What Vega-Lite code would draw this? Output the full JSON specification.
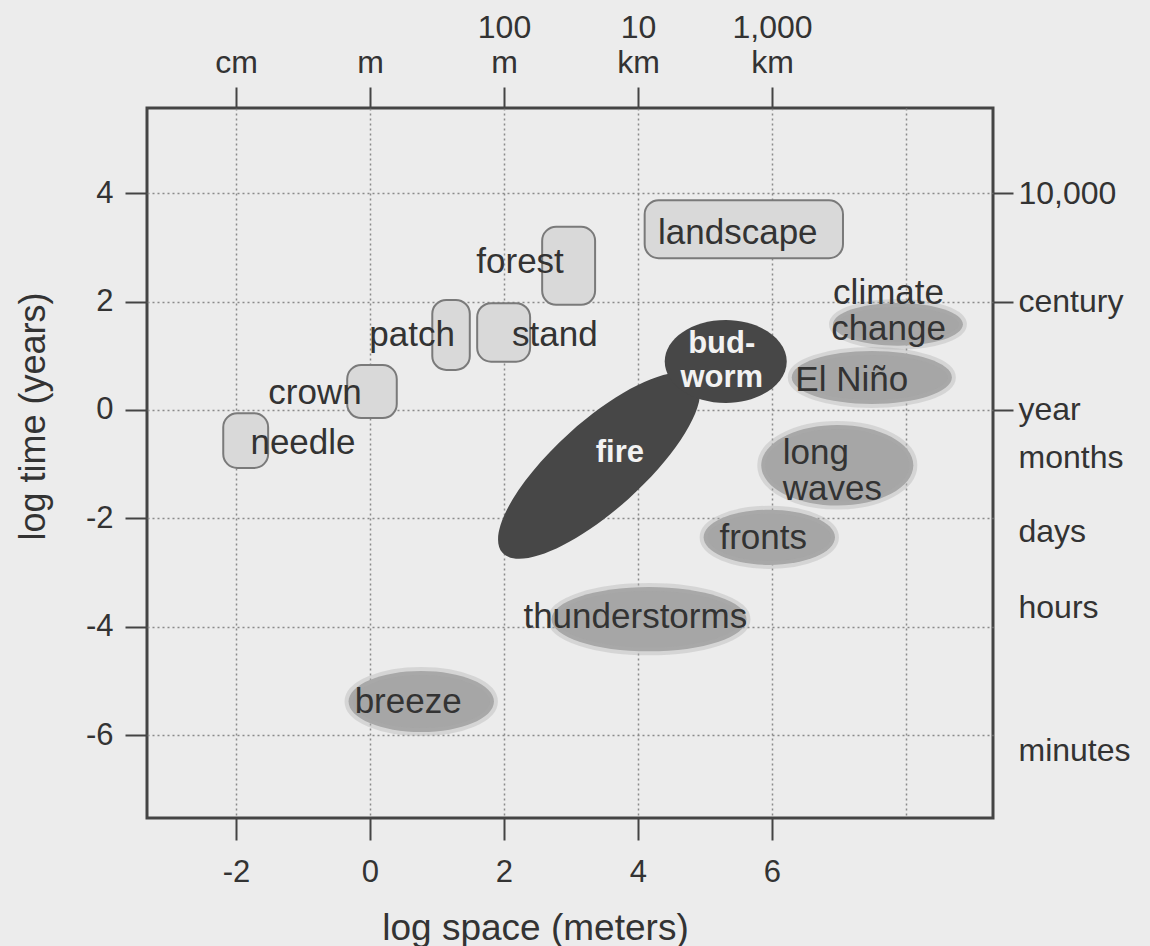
{
  "$schema": "https://vega.github.io/schema/vega-lite/v6.json",
  "autosize": {"type": "none"},
  "padding": {"left": 147, "top": 108, "right": 157, "bottom": 128},
  "width": 846,
  "height": 710,
  "background": "#ececec",
  "config": {
    "view": {"stroke": "#444444", "strokeWidth": 3},
    "font": "Liberation Sans",
    "axis": {"domain": false, "labelColor": "#333333", "titleColor": "#333333", "labelFont": "Liberation Sans", "titleFont": "Liberation Sans", "titleFontWeight": "normal", "tickWidth": 2, "gridColor": "#8a8a8a", "gridDash": [2, 3], "gridWidth": 1.5}
  },
  "datasets": {
    "habitat": [
      {"name": "landscape", "x1": 4.10, "x2": 7.06, "y1": 2.80, "y2": 3.87},
      {"name": "forest", "x1": 2.57, "x2": 3.36, "y1": 1.94, "y2": 3.38},
      {"name": "patch", "x1": 0.93, "x2": 1.49, "y1": 0.74, "y2": 2.03},
      {"name": "stand", "x1": 1.60, "x2": 2.39, "y1": 0.89, "y2": 1.97},
      {"name": "crown", "x1": -0.34, "x2": 0.40, "y1": -0.15, "y2": 0.83},
      {"name": "needle", "x1": -2.19, "x2": -1.52, "y1": -1.07, "y2": -0.06}
    ],
    "atmosphereFlat": [
      {"name": "climate change", "x": 7.88, "y": 1.58, "span": 1.94},
      {"name": "El Niño", "x": 7.49, "y": 0.60, "span": 2.39},
      {"name": "thunderstorms", "x": 4.165, "y": -3.86, "span": 2.91}
    ],
    "atmosphereMid": [
      {"name": "fronts", "x": 5.96, "y": -2.35, "span": 1.96},
      {"name": "breeze", "x": 0.765, "y": -5.38, "span": 2.17}
    ],
    "atmosphereRound": [
      {"name": "long waves", "x": 6.975, "y": -1.02, "span": 2.27}
    ],
    "budworm": [
      {"name": "budworm", "x": 5.31, "y": 0.895}
    ],
    "fire": [
      {"name": "fire", "x": 3.42, "y": -1.03}
    ],
    "labels": [
      {"text": "landscape", "x": 5.49, "y": 3.27},
      {"text": "forest", "x": 2.24, "y": 2.73},
      {"text": "patch", "x": 0.63, "y": 1.38},
      {"text": "stand", "x": 2.76, "y": 1.38},
      {"text": "crown", "x": -0.82, "y": 0.31},
      {"text": "needle", "x": -1.0, "y": -0.61},
      {"text": "climate\nchange", "x": 7.74, "y": 2.15},
      {"text": "El Niño", "x": 7.19, "y": 0.55},
      {"text": "fronts", "x": 5.87, "y": -2.36},
      {"text": "thunderstorms", "x": 3.96, "y": -3.82},
      {"text": "breeze", "x": 0.57, "y": -5.39}
    ],
    "leftlabels": [
      {"text": "long\nwaves", "x": 6.16, "y": -0.79}
    ],
    "whitelabels": [
      {"text": "bud-\nworm", "x": 5.25, "y": 1.21},
      {"text": "fire", "x": 3.73, "y": -0.79}
    ]
  },
  "resolve": {"axis": {"x": "independent", "y": "independent"}},
  "layer": [
    {
      "data": {"name": "habitat"},
      "mark": {"type": "rect", "fill": "#d9d9d9", "stroke": "#7a7a7a", "strokeWidth": 2, "cornerRadius": 14},
      "encoding": {
        "x": {"field": "x1", "type": "quantitative", "scale": {"domain": [-3.328, 9.299], "nice": false, "zero": false},
          "axis": {"orient": "bottom", "title": "log space (meters)", "values": [-2, 0, 2, 4, 6, 8], "grid": true,
            "labelExpr": "datum.value == 8 ? '' : '' + datum.value",
            "tickColor": {"condition": {"test": "datum.value < 7", "value": "#444444"}, "value": "transparent"},
            "tickSize": 22, "labelFontSize": 31, "labelPadding": 17, "labelBaseline": "top",
            "titleFontSize": 37, "titleX": 388, "titleY": 121, "titleBaseline": "alphabetic", "titleAnchor": "middle"}},
        "x2": {"field": "x2"},
        "y": {"field": "y1", "type": "quantitative", "scale": {"domain": [-7.528, 5.572], "nice": false, "zero": false},
          "axis": {"orient": "left", "title": "log time (years)", "values": [4, 2, 0, -2, -4, -6], "grid": true,
            "labelExpr": "'' + datum.value", "tickColor": "#444444",
            "tickSize": 22, "labelFontSize": 31, "labelPadding": 12,
            "titleFontSize": 36, "titleX": -103, "titleY": 308, "titleBaseline": "alphabetic", "titleAngle": -90, "titleAnchor": "middle"}},
        "y2": {"field": "y2"}
      }
    },
    {
      "data": {"name": "atmosphereFlat"},
      "mark": {"type": "point", "filled": true, "shape": "M -1 0 A 1 0.33 0 1 1 1 0 A 1 0.33 0 1 1 -1 0 Z", "color": "#a6a6a6", "opacity": 1, "stroke": "#ababab", "strokeWidth": 8, "strokeOpacity": 0.35},
      "encoding": {
        "x": {"field": "x", "type": "quantitative", "scale": {"domain": [-3.328, 9.299], "nice": false, "zero": false},
          "axis": {"orient": "top", "title": null, "values": [-2, 0, 2, 4, 6], "grid": false,
            "labelExpr": "datum.value == -2 ? ['', 'cm'] : datum.value == 0 ? ['', 'm'] : datum.value == 2 ? ['100', 'm'] : datum.value == 4 ? ['10', 'km'] : ['1,000', 'km']",
            "tickColor": "#444444", "tickSize": 21, "labelFontSize": 32, "labelPadding": 43, "labelBaseline": "bottom", "labelLineHeight": 35}},
        "y": {"field": "y", "type": "quantitative", "scale": {"domain": [-7.528, 5.572], "nice": false, "zero": false},
          "axis": {"orient": "right", "title": null, "values": [4, 2, 0, -0.87, -2.25, -3.65, -6.28], "grid": false,
            "labelExpr": "datum.value == 4 ? '10,000' : datum.value == 2 ? 'century' : datum.value == 0 ? 'year' : datum.value < -6 ? 'minutes' : datum.value < -3 ? 'hours' : datum.value < -2 ? 'days' : 'months'",
            "tickColor": {"condition": {"test": "datum.value >= 0", "value": "#444444"}, "value": "transparent"},
            "tickSize": 20, "labelFontSize": 32, "labelPadding": 5, "labelAlign": "left", "labelBaseline": "middle"}},
        "size": {"field": "span", "type": "quantitative", "scale": {"type": "pow", "exponent": 2, "domain": [0, 1], "range": [0, 4489]}, "legend": null}
      }
    },
    {
      "data": {"name": "atmosphereMid"},
      "mark": {"type": "point", "filled": true, "shape": "M -1 0 A 1 0.42 0 1 1 1 0 A 1 0.42 0 1 1 -1 0 Z", "color": "#a6a6a6", "opacity": 1, "stroke": "#ababab", "strokeWidth": 8, "strokeOpacity": 0.35},
      "encoding": {
        "x": {"field": "x", "type": "quantitative", "scale": {"domain": [-3.328, 9.299], "nice": false, "zero": false}, "axis": null},
        "y": {"field": "y", "type": "quantitative", "scale": {"domain": [-7.528, 5.572], "nice": false, "zero": false}, "axis": null},
        "size": {"field": "span", "type": "quantitative", "scale": {"type": "pow", "exponent": 2, "domain": [0, 1], "range": [0, 4489]}, "legend": null}
      }
    },
    {
      "data": {"name": "atmosphereRound"},
      "mark": {"type": "point", "filled": true, "shape": "M -1 0 A 1 0.53 0 1 1 1 0 A 1 0.53 0 1 1 -1 0 Z", "color": "#a6a6a6", "opacity": 1, "stroke": "#ababab", "strokeWidth": 8, "strokeOpacity": 0.35},
      "encoding": {
        "x": {"field": "x", "type": "quantitative", "scale": {"domain": [-3.328, 9.299], "nice": false, "zero": false}, "axis": null},
        "y": {"field": "y", "type": "quantitative", "scale": {"domain": [-7.528, 5.572], "nice": false, "zero": false}, "axis": null},
        "size": {"field": "span", "type": "quantitative", "scale": {"type": "pow", "exponent": 2, "domain": [0, 1], "range": [0, 4489]}, "legend": null}
      }
    },
    {
      "data": {"name": "fire"},
      "mark": {"type": "point", "filled": true, "shape": "M -1 0 A 1 0.34 0 1 1 1 0 A 1 0.34 0 1 1 -1 0 Z", "size": 67600, "angle": 318, "color": "#474747", "opacity": 1},
      "encoding": {
        "x": {"field": "x", "type": "quantitative", "scale": {"domain": [-3.328, 9.299], "nice": false, "zero": false}, "axis": null},
        "y": {"field": "y", "type": "quantitative", "scale": {"domain": [-7.528, 5.572], "nice": false, "zero": false}, "axis": null}
      }
    },
    {
      "data": {"name": "budworm"},
      "mark": {"type": "point", "filled": true, "shape": "M -1 0 A 1 0.68 0 1 1 1 0 A 1 0.68 0 1 1 -1 0 Z", "size": 14884, "color": "#474747", "opacity": 1},
      "encoding": {
        "x": {"field": "x", "type": "quantitative", "scale": {"domain": [-3.328, 9.299], "nice": false, "zero": false}, "axis": null},
        "y": {"field": "y", "type": "quantitative", "scale": {"domain": [-7.528, 5.572], "nice": false, "zero": false}, "axis": null}
      }
    },
    {
      "data": {"name": "labels"},
      "mark": {"type": "text", "fontSize": 35, "color": "#333333", "align": "center", "baseline": "middle", "lineBreak": "\n", "lineHeight": 36},
      "encoding": {
        "x": {"field": "x", "type": "quantitative", "scale": {"domain": [-3.328, 9.299], "nice": false, "zero": false}, "axis": null},
        "y": {"field": "y", "type": "quantitative", "scale": {"domain": [-7.528, 5.572], "nice": false, "zero": false}, "axis": null},
        "text": {"field": "text"}
      }
    },
    {
      "data": {"name": "leftlabels"},
      "mark": {"type": "text", "fontSize": 35, "color": "#333333", "align": "left", "baseline": "middle", "lineBreak": "\n", "lineHeight": 36},
      "encoding": {
        "x": {"field": "x", "type": "quantitative", "scale": {"domain": [-3.328, 9.299], "nice": false, "zero": false}, "axis": null},
        "y": {"field": "y", "type": "quantitative", "scale": {"domain": [-7.528, 5.572], "nice": false, "zero": false}, "axis": null},
        "text": {"field": "text"}
      }
    },
    {
      "data": {"name": "whitelabels"},
      "mark": {"type": "text", "fontSize": 31, "fontWeight": "bold", "color": "#f2f2f2", "align": "center", "baseline": "middle", "lineBreak": "\n", "lineHeight": 34},
      "encoding": {
        "x": {"field": "x", "type": "quantitative", "scale": {"domain": [-3.328, 9.299], "nice": false, "zero": false}, "axis": null},
        "y": {"field": "y", "type": "quantitative", "scale": {"domain": [-7.528, 5.572], "nice": false, "zero": false}, "axis": null},
        "text": {"field": "text"}
      }
    }
  ]
}
